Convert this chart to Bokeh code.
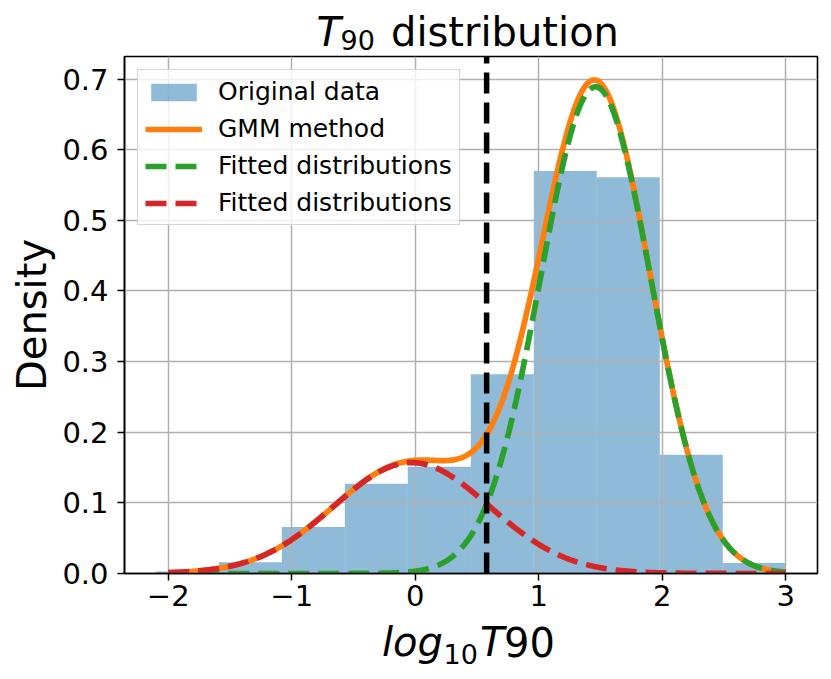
import numpy as np
from bokeh.plotting import figure
from bokeh.layouts import column
from bokeh.models import Legend, LegendItem, FixedTicker, Range1d
from bokeh.core.properties import value
from bokeh.embed import file_html
from bokeh.resources import INLINE

# ---- data ----
bin_edges = [-2.10, -1.59, -1.08, -0.57, -0.06, 0.45, 0.96, 1.47, 1.98, 2.49, 3.00]
bin_density = [0.003, 0.016, 0.066, 0.127, 0.151, 0.282, 0.570, 0.561, 0.168, 0.015]

# fitted Gaussian mixture components (short-burst, long-burst)
gmm_weights = [0.248, 0.772]
gmm_means = [-0.03, 1.46]
gmm_sds = [0.63, 0.447]
curve_x_range = [-2.0, 3.0]

threshold = [0.578]

x_ticks = [-2, -1, 0, 1, 2, 3]
x_tick_labels = ["\u22122", "\u22121", "0", "1", "2", "3"]
y_ticks = [0.0, 0.1, 0.2, 0.3, 0.4, 0.5, 0.6, 0.7]
y_tick_labels = ["0.0", "0.1", "0.2", "0.3", "0.4", "0.5", "0.6", "0.7"]

legend_labels = ["Original data", "GMM method", "Fitted distributions", "Fitted distributions"]
title_parts = ["T", "90", "distribution"]
xlabel_parts = ["log", "10", "T", "90"]
ylabel = "Density"

FONT = "DejaVu Sans"
W = 830
TOP_H = 55
MAIN_H = 563      # 1 (top border) + 517 (frame) + 45 (x axis)
BOT_H = 60
BL, BR = 124, 13

p = figure(width=W, height=MAIN_H, output_backend="svg", toolbar_location=None, title=None,
           x_range=Range1d(-2.354, 3.257), y_range=Range1d(0, 0.732),
           min_border_left=BL, min_border_right=BR, min_border_top=1, min_border_bottom=45)
p.outline_line_color = "black"
p.outline_line_width = 1.6

# histogram (drawn below the grid, as in matplotlib)
bars = p.quad(left=bin_edges[:-1], right=bin_edges[1:], bottom=0, top=bin_density,
              fill_color="#1f77b4", fill_alpha=0.5, line_color=None, level="image")

xs = np.linspace(curve_x_range[0], curve_x_range[1], 800)
comps = []
for w, m, s in zip(gmm_weights, gmm_means, gmm_sds):
    comps.append(w * np.exp(-0.5 * ((xs - m) / s) ** 2) / (s * np.sqrt(2 * np.pi)))
total = comps[0] + comps[1]

r_total = p.line(xs, total, line_color="#ff7f0e", line_width=5.7)
r_long = p.line(xs, comps[1], line_color="#2ca02c", line_width=5.7, line_dash="21 9")
r_short = p.line(xs, comps[0], line_color="#d62728", line_width=5.7, line_dash="21 9")
p.ray(x=threshold, y=[0], length=0, angle=np.pi / 2, line_color="black",
      line_width=5.5, line_dash="21 9")

xt = FixedTicker(ticks=x_ticks)
yt = FixedTicker(ticks=y_ticks)
p.xaxis.ticker = xt
p.yaxis.ticker = yt
p.xgrid.ticker = xt
p.ygrid.ticker = yt
p.xaxis.major_label_overrides = {float(t): l for t, l in zip(x_ticks, x_tick_labels)}
p.yaxis.major_label_overrides = {float(t): l for t, l in zip(y_ticks, y_tick_labels)}
for ax in (p.xaxis, p.yaxis):
    ax.major_tick_out = 7
    ax.major_tick_in = 0
    ax.minor_tick_out = 0
    ax.minor_tick_in = 0
    ax.major_tick_line_width = 1.5
    ax.major_tick_line_color = "black"
    ax.axis_line_width = 1.6
    ax.axis_line_color = "black"
    ax.major_label_text_font = FONT
    ax.major_label_text_font_size = "29px"
    ax.major_label_text_color = "black"
p.xaxis.major_label_standoff = 4
p.yaxis.major_label_standoff = 9

p.yaxis.axis_label = ylabel
p.yaxis.axis_label_text_font = FONT
p.yaxis.axis_label_text_font_size = "40px"
p.yaxis.axis_label_text_font_style = "normal"
p.yaxis.axis_label_text_color = "black"
p.yaxis.axis_label_standoff = 4

p.grid.grid_line_color = "#b0b0b0"
p.grid.grid_line_width = 1.5

legend = Legend(items=[LegendItem(label=legend_labels[0], renderers=[bars]),
                       LegendItem(label=legend_labels[1], renderers=[r_total]),
                       LegendItem(label=legend_labels[2], renderers=[r_long]),
                       LegendItem(label=legend_labels[3], renderers=[r_short])],
                location="top_left", margin=13, padding=7, spacing=8,
                glyph_width=57, glyph_height=22, label_standoff=16,
                label_text_font=FONT, label_text_font_size="25px", label_text_color="black",
                border_line_color="#cccccc", border_line_width=1.5, border_line_alpha=0.8,
                background_fill_color="white", background_fill_alpha=0.8)
p.add_layout(legend)


def text_strip(y0, h):
    # frame spans page x BL..W-BR (frames are aligned in a column); data coords = page pixels
    f = figure(width=W, height=h, output_backend="svg", toolbar_location=None, title=None,
               x_range=Range1d(BL, W - BR), y_range=Range1d(y0 + h, y0),
               x_axis_type=None, y_axis_type=None,
               min_border_left=BL, min_border_right=BR, min_border_top=0, min_border_bottom=0)
    f.outline_line_color = None
    return f


def put(f, x, baseline, text, size_px, italic=False):
    # text box is centred vertically; baseline sits 0.346 em below the centre
    f.text(x=[x], y=[baseline - 0.346 * size_px], text=[text], text_font=value(FONT),
           text_font_size=value(f"{size_px}px"),
           text_font_style="italic" if italic else "normal", text_color="black",
           text_baseline="middle", text_align="left")


top = text_strip(0, TOP_H)
put(top, 316, 45.3, title_parts[0], 40, italic=True)
put(top, 340, 48.4, title_parts[1], 27)
put(top, 390.5, 45.3, title_parts[2], 40)

bot_y0 = TOP_H + MAIN_H
bot = text_strip(bot_y0, BOT_H)
put(bot, 381.5, 655.6, xlabel_parts[0], 40, italic=True)
put(bot, 443, 663.0, xlabel_parts[1], 27)
put(bot, 479.5, 655.6, xlabel_parts[2], 40, italic=True)
put(bot, 503.5, 655.6, xlabel_parts[3], 40)

layout = column(top, p, bot, spacing=0)
open("out.html", "w").write(file_html(layout, INLINE))
